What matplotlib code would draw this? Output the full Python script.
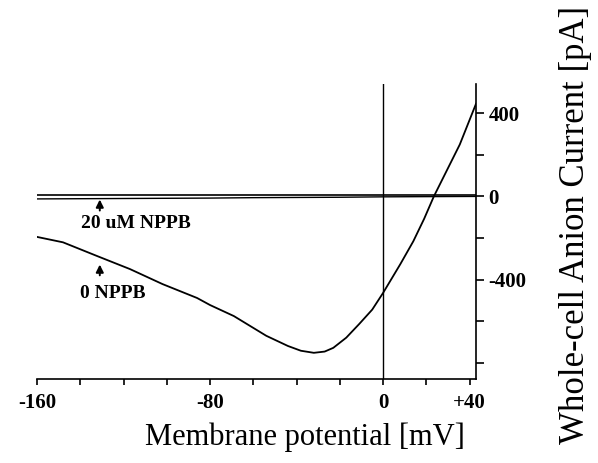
import numpy as np
import matplotlib.pyplot as plt
from matplotlib.ticker import FixedLocator, FixedFormatter

# control trace (0 NPPB)
v_ctrl = [-160, -148, -132, -117, -102, -86, -80, -69, -54, -44, -38, -32,
          -27, -23, -17, -11, -5, 0, 8, 14, 19, 23.5, 35.5, 43]
i_ctrl = [-195, -221, -288, -350, -422, -489, -523, -576, -671, -720, -743, -753,
          -747, -729, -680, -614, -545, -465, -326, -216, -108, 0, 250, 446]

# 20 uM NPPB trace
v_nppb = [-160, -140, -120, -100, -80, -60, -40, -20, 0, 20, 43]
i_nppb = [-12, -11, -10, -9, -8, -6, -5, -4, -2, -1, 0]

x_ticks = [-160, -140, -120, -100, -80, -60, -40, -20, 0, 20, 40]
x_labels = ['-160', '', '', '', '-80', '', '', '', '0', '', '+40']
y_ticks = [-800, -600, -400, -200, 0, 200, 400]
y_labels = ['', '', '-400', '', '0', '', '400']

serif = 'Liberation Serif'

fig = plt.figure(figsize=(5.98, 4.63), dpi=100)
ax = fig.add_axes([0.062, 0.181, 0.734, 0.637])

ax.plot(v_ctrl, i_ctrl, color='k', lw=1.3)
ax.plot(v_nppb, i_nppb, color='k', lw=1.0)
ax.axhline(6, color='k', lw=1.2)
ax.axvline(0, color='k', lw=1.0)

ax.set_xlim(-160, 43)
ax.set_ylim(-880, 540)

for s in ['left', 'top']:
    ax.spines[s].set_visible(False)
ax.spines['bottom'].set_linewidth(1.2)
ax.spines['right'].set_linewidth(1.2)

ax.yaxis.tick_right()
ax.xaxis.set_major_locator(FixedLocator(x_ticks))
ax.xaxis.set_major_formatter(FixedFormatter(x_labels))
ax.yaxis.set_major_locator(FixedLocator(y_ticks))
ax.yaxis.set_major_formatter(FixedFormatter(y_labels))
ax.tick_params(axis='x', direction='out', length=4, width=1.2, pad=6)
ax.tick_params(axis='y', direction='out', length=6, width=1.2, pad=3)
for lab in ax.get_xticklabels() + ax.get_yticklabels():
    lab.set_fontfamily(serif)
    lab.set_fontweight('bold')
    lab.set_fontsize(15)

# arrows and labels
arrow = dict(arrowstyle='-|>', color='k', lw=1.4, mutation_scale=11,
             shrinkA=0, shrinkB=0)
ax.annotate('', xy=(-131, -15), xytext=(-131, -68), arrowprops=arrow)
ax.text(-114.5, -130, '20 uM NPPB', ha='center', va='center',
        family=serif, fontweight='bold', fontsize=14)
ax.annotate('', xy=(-131, -328), xytext=(-131, -380), arrowprops=arrow)
ax.text(-125, -465, '0 NPPB', ha='center', va='center',
        family=serif, fontweight='bold', fontsize=14)

fig.text(0.51, 0.056, 'Membrane potential [mV]', ha='center', va='center',
         family=serif, fontsize=22)
fig.text(0.962, 0.514, 'Whole-cell Anion Current [pA]', ha='center', va='center',
         rotation=90, family=serif, fontsize=25)

fig.savefig('out.png', dpi=100)
